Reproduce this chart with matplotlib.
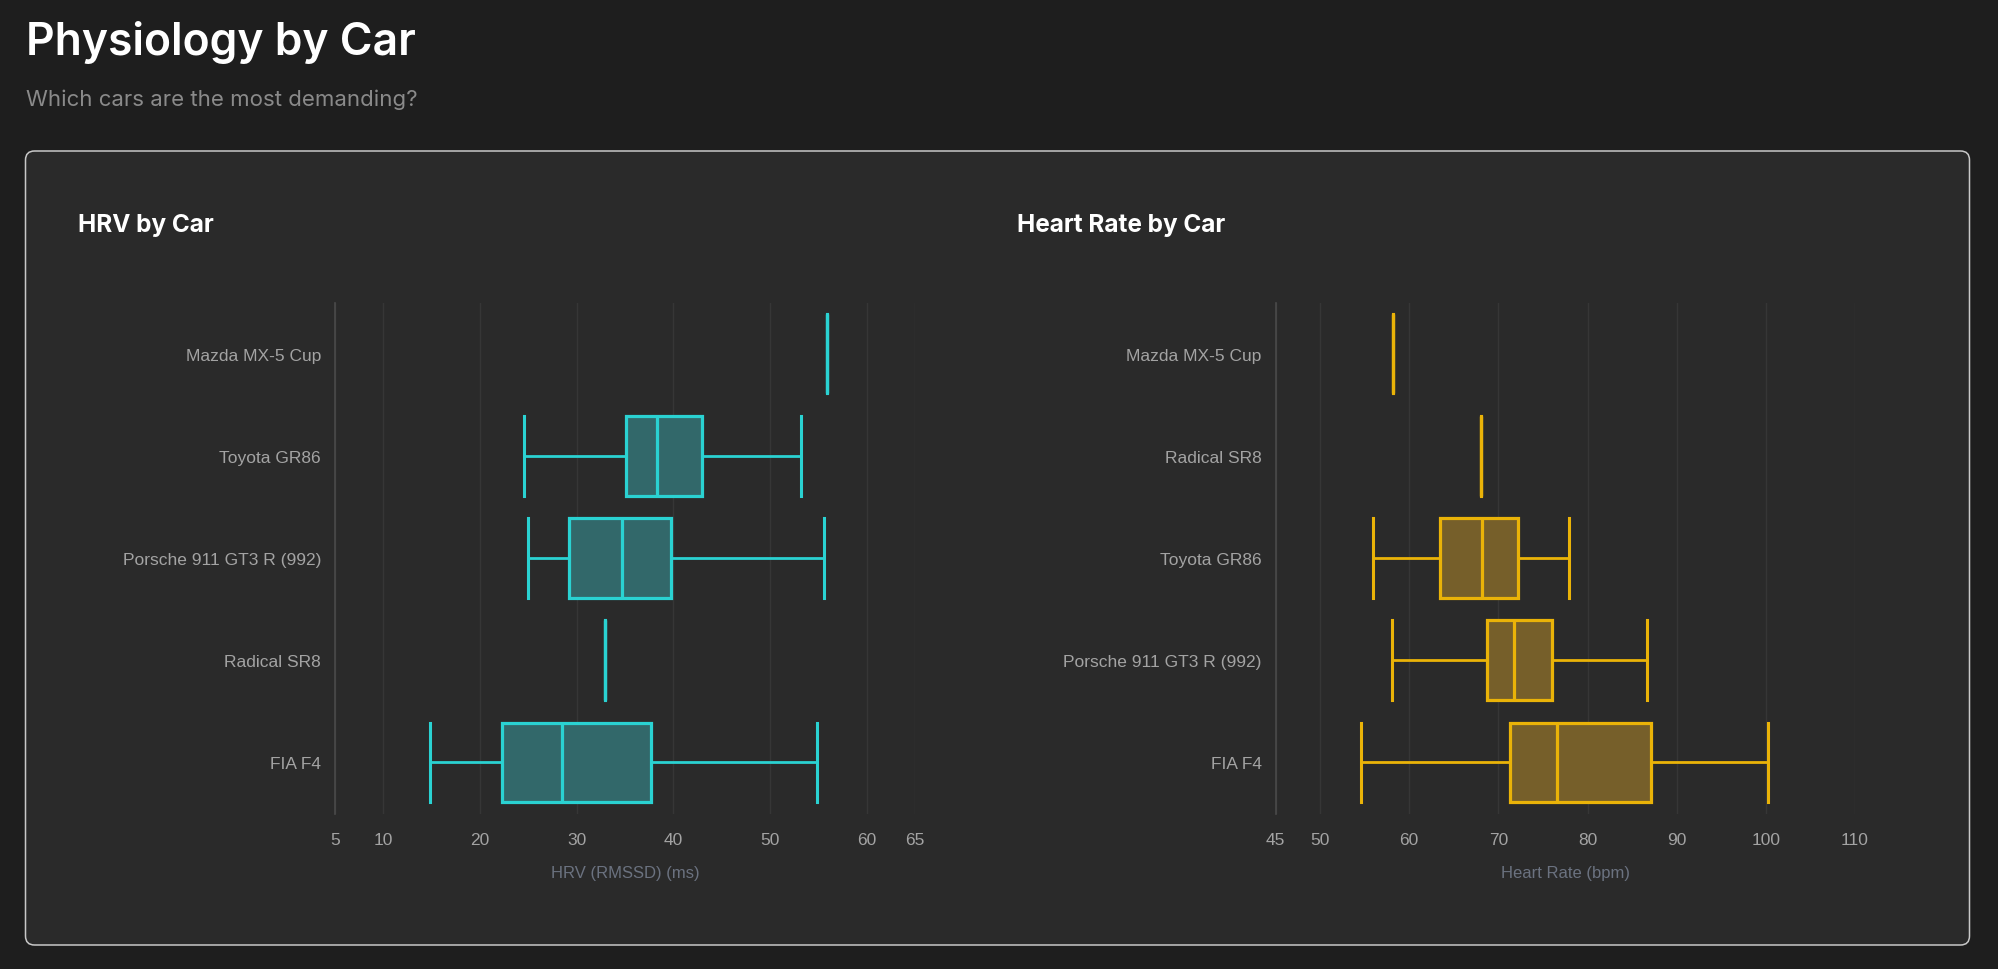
import matplotlib.pyplot as plt
from matplotlib.patches import FancyBboxPatch

# Data (HRV in ms, heart rate in bpm)
hrv_cars = ['Mazda MX-5 Cup', 'Toyota GR86', 'Porsche 911 GT3 R (992)', 'Radical SR8', 'FIA F4']
hrv_low = [55.9, 24.6, 25.0, 32.9, 14.8]
hrv_q1 = [55.9, 35.1, 29.2, 32.9, 22.3]
hrv_med = [55.9, 38.3, 34.7, 32.9, 28.5]
hrv_q3 = [55.9, 43.0, 39.8, 32.9, 37.7]
hrv_high = [55.9, 53.2, 55.6, 32.9, 54.9]
hrv_ticks = [5, 10, 20, 30, 40, 50, 60, 65]

hr_cars = ['Mazda MX-5 Cup', 'Radical SR8', 'Toyota GR86', 'Porsche 911 GT3 R (992)', 'FIA F4']
hr_low = [58.2, 68.0, 55.9, 58.1, 54.6]
hr_q1 = [58.2, 68.0, 63.4, 68.7, 71.3]
hr_med = [58.2, 68.0, 68.2, 71.7, 76.6]
hr_q3 = [58.2, 68.0, 72.2, 76.0, 87.1]
hr_high = [58.2, 68.0, 77.9, 86.7, 100.2]
hr_ticks = [45, 50, 60, 70, 80, 90, 100, 110]

W, H = 1998, 970
BG = '#1e1e1e'
PANEL = '#2a2a2a'
TEAL = '#2ad2d2'
TEAL_FILL = '#32686a'
GOLD = '#eab308'
GOLD_FILL = '#765f2a'

fig = plt.figure(figsize=(W / 100, H / 100), dpi=100, facecolor=BG)

# background layer in pixel units
bg = fig.add_axes([0, 0, 1, 1], zorder=-1)
bg.set_xlim(0, W)
bg.set_ylim(H, 0)
bg.axis('off')
bg.add_patch(FancyBboxPatch((25.5, 152), 1944, 794,
                            boxstyle='round,pad=0,rounding_size=9',
                            facecolor=PANEL, edgecolor='#c8c8c8', linewidth=1.1))
bg.text(25.5, 55, 'Physiology by Car', color='white', fontsize=32,
        fontfamily='Inter', fontweight='semibold', va='baseline', ha='left')
bg.text(25.5, 106, 'Which cars are the most demanding?', color='#8a8a8a',
        fontsize=16, fontfamily='Inter', va='baseline', ha='left')
bg.text(78, 232, 'HRV by Car', color='white', fontsize=17.5,
        fontfamily='Inter', fontweight='bold', va='baseline', ha='left')
bg.text(1017, 232, 'Heart Rate by Car', color='white', fontsize=17.5,
        fontfamily='Inter', fontweight='bold', va='baseline', ha='left')


def box_panel(rect, cars, low, q1, med, q3, high, ticks, xlabel, line, fill):
    ax = fig.add_axes(rect)
    ax.patch.set_alpha(0)
    stats = []
    for i in range(len(cars)):
        stats.append({'whislo': low[i], 'q1': q1[i], 'med': med[i],
                      'q3': q3[i], 'whishi': high[i], 'label': cars[i]})
    ax.bxp(stats, positions=range(len(cars)), orientation='horizontal',
           widths=0.78, capwidths=0.78, patch_artist=True, showfliers=False,
           boxprops=dict(facecolor=fill, edgecolor=line, linewidth=2.3),
           medianprops=dict(color=line, linewidth=2.3),
           whiskerprops=dict(color=line, linewidth=2.0),
           capprops=dict(color=line, linewidth=2.2))
    ax.set_ylim(len(cars) - 0.5, -0.5)
    ax.set_xlim(ticks[0], ticks[-1])
    ax.set_xticks(ticks)
    ax.set_yticks(range(len(cars)))
    ax.set_yticklabels(cars)
    ax.grid(axis='x', color='#363636', linewidth=1)
    ax.set_axisbelow(True)
    for s in ['top', 'right', 'bottom']:
        ax.spines[s].set_visible(False)
    ax.spines['left'].set_color('#4a4a4a')
    ax.spines['left'].set_linewidth(1.2)
    ax.tick_params(axis='both', length=0, colors='#a3a3a3', labelsize=12.5)
    ax.tick_params(axis='x', pad=13)
    ax.tick_params(axis='y', pad=10)
    for lab in ax.get_xticklabels() + ax.get_yticklabels():
        lab.set_fontfamily('Liberation Sans')
    ax.set_xlabel(xlabel, color='#6b7280', fontsize=12,
                  fontfamily='Liberation Sans', labelpad=13)
    return ax


box_panel([335 / W, 1 - 814.5 / H, 580 / W, 511 / H], hrv_cars,
          hrv_low, hrv_q1, hrv_med, hrv_q3, hrv_high, hrv_ticks,
          'HRV (RMSSD) (ms)', TEAL, TEAL_FILL)
box_panel([1275.5 / W, 1 - 814.5 / H, 579.5 / W, 511 / H], hr_cars,
          hr_low, hr_q1, hr_med, hr_q3, hr_high, hr_ticks,
          'Heart Rate (bpm)', GOLD, GOLD_FILL)

fig.savefig('out.png', dpi=100, facecolor=BG)
